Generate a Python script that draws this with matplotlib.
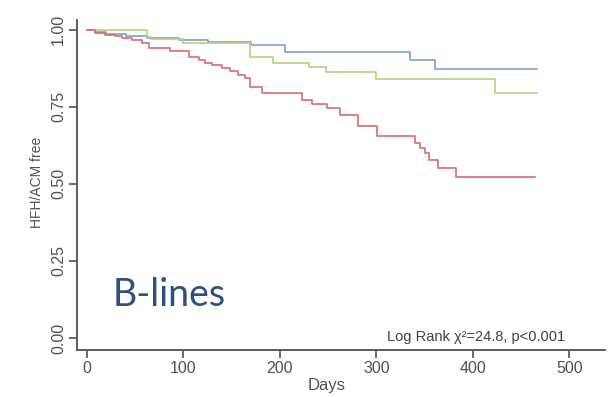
import matplotlib
matplotlib.use("Agg")
import matplotlib.pyplot as plt

# ---- data ----
blue_days = [0, 8, 20, 40, 62, 95, 125, 170, 205, 335, 361, 466]
blue_surv = [1.0, 0.993, 0.987, 0.980, 0.974, 0.968, 0.961, 0.951, 0.929, 0.901, 0.872, 0.872]

green_days = [0, 62, 66, 100, 169, 193, 230, 248, 300, 423, 466]
green_surv = [1.0, 0.978, 0.970, 0.957, 0.913, 0.892, 0.879, 0.862, 0.842, 0.796, 0.796]

red_days = [0, 8, 19, 29, 36, 47, 57, 64, 86, 106, 116, 122, 130, 140, 148, 156, 164,
            169, 181, 223, 233, 249, 262, 281, 301, 340, 345, 350, 355, 364, 383, 464]
red_surv = [1.0, 0.990, 0.984, 0.981, 0.974, 0.968, 0.958, 0.941, 0.930, 0.913, 0.903,
            0.894, 0.886, 0.877, 0.867, 0.854, 0.844, 0.816, 0.795, 0.773, 0.760, 0.747,
            0.724, 0.688, 0.656, 0.633, 0.617, 0.601, 0.578, 0.552, 0.523, 0.523]

x_ticks = [0, 100, 200, 300, 400, 500]
y_ticks = [0.0, 0.25, 0.5, 0.75, 1.0]
y_ticklabels = ["0.00", "0.25", "0.50", "0.75", "1.00"]

plt.rcParams["font.family"] = ["Liberation Sans", "DejaVu Sans"]

fig = plt.figure(figsize=(6.10, 3.97), dpi=100)
ax = fig.add_axes([77 / 610, 1 - 350 / 397, (605 - 77) / 610, (350 - 20) / 397])

ax.step(blue_days, blue_surv, where="post", color="#7f9fd0", lw=1.2)
ax.step(green_days, green_surv, where="post", color="#b5cf7f", lw=1.2)
ax.step(red_days, red_surv, where="post", color="#d96c6c", lw=1.2)

ax.set_xlim(-10.4, 537)
ax.set_ylim(-0.039, 1.032)

for s in ["top", "right"]:
    ax.spines[s].set_visible(False)
for s in ["left", "bottom"]:
    ax.spines[s].set_color("#505050")
    ax.spines[s].set_linewidth(1.3)

tick_color = "#505050"
ax.set_xticks(x_ticks)
ax.set_xticklabels([str(v) for v in x_ticks])
ax.set_yticks(y_ticks)
ax.set_yticklabels(y_ticklabels, rotation=90, va="center")
ax.tick_params(axis="both", colors="#505050", labelcolor=tick_color,
               labelsize=11.5, length=6, width=1.2, pad=2)

ax.set_xlabel("Days", fontsize=12, color=tick_color, labelpad=0)
ax.xaxis.set_label_coords(0.473, -0.085)

fig.text(37 / 610, 1 - 182 / 397, "HFH/ACM free", rotation=90, ha="center", va="center",
         fontsize=10, color=tick_color)

ax.text(0.925, 0.04, "Log Rank \u03c7\u00b2=24.8, p<0.001", transform=ax.transAxes,
        ha="right", va="center", fontsize=10.5, color="#404040")

ax.text(0.067, 0.133, "B-lines", transform=ax.transAxes, ha="left", va="baseline",
        fontsize=27, color="#2e4f80", family=["Lato", "DejaVu Sans"])

fig.savefig("out.png", dpi=100, facecolor="white")
